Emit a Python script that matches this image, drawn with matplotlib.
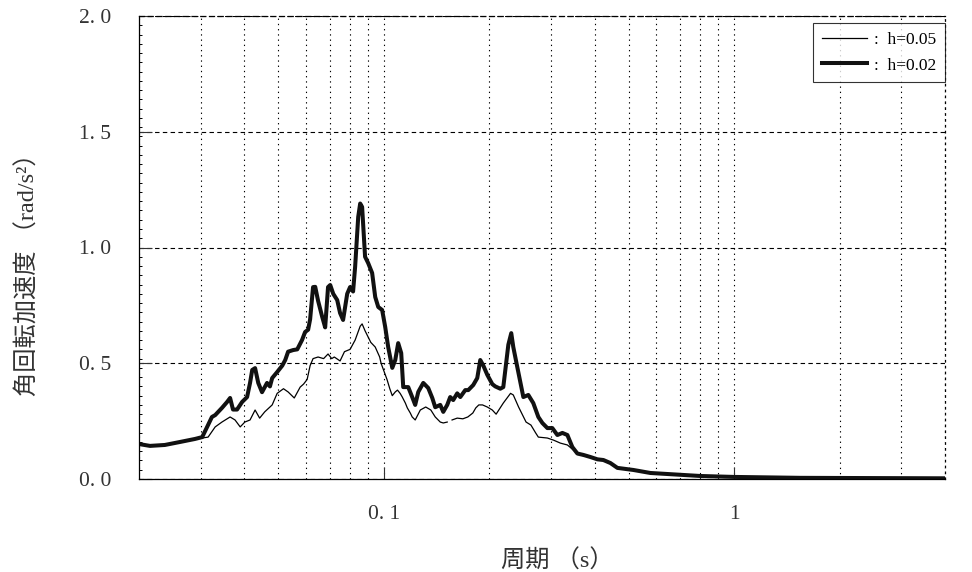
import numpy as np
import matplotlib
matplotlib.use("Agg")
import matplotlib.pyplot as plt
from matplotlib.ticker import FixedLocator, MultipleLocator, NullFormatter, FuncFormatter

# period (s) and angular acceleration (rad/s^2), h=0.02 (thick)
period_h2 = [0.0200, 0.0215, 0.0237, 0.0262, 0.0289, 0.0303, 0.0313, 0.0323, 0.0330, 0.0345,
             0.0357, 0.0364, 0.0371, 0.0381, 0.0394, 0.0407, 0.0415, 0.0421, 0.0429, 0.0438,
             0.0449, 0.0464, 0.0473, 0.0480, 0.0496, 0.0513, 0.0523, 0.0533, 0.0551, 0.0566,
             0.0584, 0.0596, 0.0608, 0.0616, 0.0628, 0.0637, 0.0649, 0.0667, 0.0680, 0.0693,
             0.0703, 0.0717, 0.0736, 0.0750, 0.0765, 0.0786, 0.0801, 0.0817, 0.0828, 0.0845,
             0.0856, 0.0867, 0.0884, 0.0902, 0.0926, 0.0945, 0.0964, 0.0989, 0.1009, 0.1029,
             0.1057, 0.1078, 0.1099, 0.1121, 0.1136, 0.1174, 0.1205, 0.1229, 0.1254, 0.1296,
             0.1339, 0.1375, 0.1402, 0.1449, 0.1478, 0.1517, 0.1547, 0.1578, 0.1620, 0.1653,
             0.1708, 0.1742, 0.1800, 0.1848, 0.1885, 0.1923, 0.1974, 0.2040, 0.2080, 0.2150,
             0.2193, 0.2267, 0.2311, 0.2342, 0.2404, 0.2502, 0.2585, 0.2671, 0.2761, 0.2835,
             0.2930, 0.3027, 0.3129, 0.3234, 0.3342, 0.3453, 0.3569, 0.3712, 0.3888, 0.4071,
             0.4234, 0.4434, 0.4643, 0.5157, 0.5768, 0.6710, 0.801, 0.996, 1.547, 2.45, 4.0]
acc_h2 = [0.151, 0.143, 0.147, 0.160, 0.173, 0.181, 0.225, 0.268, 0.276, 0.307,
          0.333, 0.350, 0.300, 0.300, 0.333, 0.354, 0.415, 0.471, 0.479, 0.415,
          0.375, 0.415, 0.400, 0.436, 0.462, 0.490, 0.514, 0.550, 0.557, 0.560,
          0.600, 0.635, 0.645, 0.690, 0.829, 0.830, 0.770, 0.700, 0.655, 0.829,
          0.838, 0.800, 0.773, 0.717, 0.687, 0.800, 0.829, 0.810, 0.916, 1.132,
          1.190, 1.175, 0.960, 0.933, 0.890, 0.786, 0.743, 0.730, 0.657, 0.570,
          0.480, 0.514, 0.587, 0.544, 0.397, 0.397, 0.354, 0.320, 0.376, 0.415,
          0.393, 0.350, 0.310, 0.320, 0.290, 0.320, 0.354, 0.341, 0.370, 0.354,
          0.384, 0.384, 0.406, 0.436, 0.514, 0.490, 0.450, 0.410, 0.400, 0.390,
          0.397, 0.580, 0.630, 0.570, 0.484, 0.354, 0.363, 0.328, 0.268, 0.242,
          0.220, 0.220, 0.190, 0.199, 0.190, 0.138, 0.110, 0.104, 0.095, 0.085,
          0.082, 0.069, 0.048, 0.039, 0.026, 0.020, 0.013, 0.009, 0.005, 0.004, 0.003]

# h=0.05 (thin); nan marks the short break in the trace
period_h5 = [0.0200, 0.0215, 0.0237, 0.0262, 0.0289, 0.0303, 0.0315, 0.0330, 0.0345, 0.0364,
             0.0376, 0.0389, 0.0401, 0.0415, 0.0429, 0.0442, 0.0457, 0.0480, 0.0496, 0.0517,
             0.0533, 0.0555, 0.0577, 0.0590, 0.0604, 0.0616, 0.0628, 0.0649, 0.0673, 0.0693,
             0.0710, 0.0722, 0.0750, 0.0772, 0.0801, 0.0828, 0.0856, 0.0867, 0.0884, 0.0918,
             0.0945, 0.0973, 0.0982, 0.1021, 0.1040, 0.1057, 0.1078, 0.1094, 0.1113, 0.1128,
             0.1152, 0.1167, 0.1190, 0.1205, 0.1229, 0.1271, 0.1317, 0.1362, 0.1402, 0.1449,
             0.1478, 0.1517, 0.1540, 0.1566, 0.1620, 0.1681, 0.1737, 0.1795, 0.1830, 0.1867,
             0.1913, 0.1974, 0.2040, 0.2092, 0.2193, 0.2300, 0.2342, 0.2425, 0.2547, 0.2630,
             0.2713, 0.2761, 0.2930, 0.3050, 0.3192, 0.3342, 0.3480, 0.3623, 0.3888, 0.4071,
             0.4234, 0.4434, 0.4643, 0.5157, 0.5768, 0.6710, 0.801, 0.996, 1.547, 2.45, 4.0]
acc_h5 = [0.151, 0.143, 0.147, 0.160, 0.173, 0.177, 0.181, 0.225, 0.246, 0.268,
          0.255, 0.225, 0.246, 0.255, 0.298, 0.263, 0.290, 0.320, 0.370, 0.390,
          0.376, 0.350, 0.397, 0.410, 0.430, 0.490, 0.520, 0.527, 0.520, 0.540,
          0.520, 0.527, 0.510, 0.550, 0.560, 0.600, 0.660, 0.670, 0.640, 0.590,
          0.570, 0.527, 0.500, 0.430, 0.390, 0.360, 0.376, 0.384, 0.370, 0.355,
          0.328, 0.307, 0.285, 0.268, 0.255, 0.298, 0.311, 0.298, 0.268, 0.246,
          0.242, 0.246, np.nan, 0.255, 0.263, 0.260, 0.268, 0.285, 0.307, 0.320,
          0.320, 0.311, 0.298, 0.280, 0.328, 0.370, 0.363, 0.311, 0.246, 0.233,
          0.199, 0.181, 0.177, 0.168, 0.155, 0.147, 0.125, 0.104, 0.095, 0.085,
          0.082, 0.069, 0.048, 0.039, 0.026, 0.020, 0.013, 0.009, 0.005, 0.004, 0.003]

x_major = [0.1, 1]
x_major_labels = ["0. 1", "1"]
y_ticks = [0.0, 0.5, 1.0, 1.5, 2.0]

plt.rcParams["font.family"] = ["Liberation Serif", "Noto Sans CJK JP"]

fig = plt.figure(figsize=(9.72, 5.72), dpi=100)
ax = fig.add_axes([139/972, 93/572, 806/972, 463/572])

ax.plot(period_h5, acc_h5, color="black", lw=0.9, label=":  h=0.05")
ax.plot(period_h2, acc_h2, color="#111111", lw=2.9, label=":  h=0.02",
        solid_joinstyle="round")

ax.set_xscale("log")
ax.set_xlim(0.02, 4.0)
ax.set_ylim(0.0, 2.0)

ax.xaxis.set_major_locator(FixedLocator(x_major))
ax.xaxis.set_major_formatter(FuncFormatter(
    lambda v, p: x_major_labels[x_major.index(v)] if v in x_major else ""))
minor_x = [m * 10.0**e for e in (-2, -1, 0) for m in range(2, 10)]
ax.xaxis.set_minor_locator(FixedLocator(minor_x))
ax.xaxis.set_minor_formatter(NullFormatter())

ax.yaxis.set_major_locator(FixedLocator(y_ticks))
ax.yaxis.set_major_formatter(FuncFormatter(lambda v, p: f"{v:.1f}".replace(".", ". ")))
ax.yaxis.set_minor_locator(MultipleLocator(0.04))

ax.tick_params(axis="both", which="major", direction="in", length=9, width=0.8,
               labelsize=15.5, colors="#333333")
ax.tick_params(axis="x", which="major", pad=19)
ax.tick_params(axis="y", which="major", pad=20)
ax.tick_params(axis="x", which="minor", length=0)
ax.tick_params(axis="y", which="minor", direction="in", length=2.5, width=0.7)

ax.set_axisbelow(True)
ax.grid(axis="x", which="both", color="black", lw=0.8, ls=(0, (1.2, 3.5)))
ax.grid(axis="y", which="major", color="black", lw=0.8, ls=(0, (4, 3)))

ax.spines["top"].set_linestyle((0, (4, 3)))
ax.spines["right"].set_linestyle((0, (1.2, 3.5)))
for s in ax.spines.values():
    s.set_linewidth(0.9)

ax.set_ylabel("角回転加速度 （rad/s²）", fontsize=17.5, color="#333333")
ax.yaxis.set_label_coords(-0.123, 0.455)
ax.set_xlabel("周期 （s）", fontsize=17.5, color="#333333")
ax.xaxis.set_label_coords(0.519, -0.153)

leg = ax.legend(loc="upper right", bbox_to_anchor=(1.0, 1 - 7/463), borderaxespad=0,
                fontsize=12.5, frameon=True, fancybox=False, handlelength=2.6,
                handletextpad=0.4, labelspacing=0.55, borderpad=0.5)
leg.get_frame().set_edgecolor("black")
leg.get_frame().set_linewidth(0.8)

fig.savefig("out.png", dpi=100)
